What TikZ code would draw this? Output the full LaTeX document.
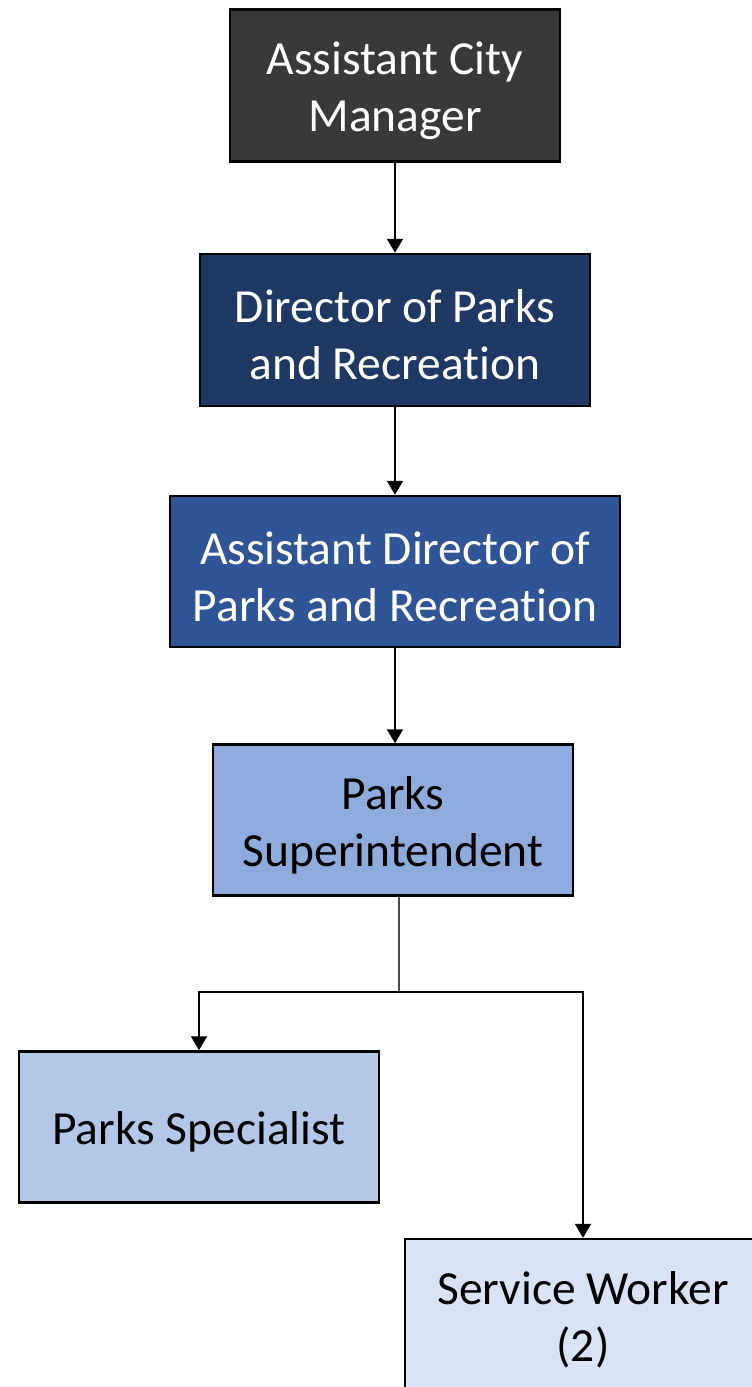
\documentclass[tikz,border=0pt]{standalone}
\usepackage{fontspec}
\setmainfont{Carlito}[Ligatures=NoCommon]
\usetikzlibrary{arrows.meta}
\definecolor{cgray}{HTML}{3B3838}
\definecolor{cnavy}{HTML}{203864}
\definecolor{cblue}{HTML}{2F5597}
\definecolor{cmid}{HTML}{8FAADC}
\definecolor{clight}{HTML}{B4C7E7}
\definecolor{cpale}{HTML}{DAE3F3}
\newcommand{\dn}[1]{\raisebox{-5pt}[\height][\depth]{#1}}
\tikzset{
  orgbox/.style={draw=black, line width=2.5pt, rectangle, inner sep=0pt, align=center,
    font=\fontsize{47.5}{57}\selectfont},
  arr/.style={draw=black, line width=2pt, -{Triangle[length=14pt,width=16pt]}},
  thinline/.style={draw=black!70, line width=1.2pt}
}
\begin{document}
\begin{tikzpicture}[x=1pt,y=-1pt]
\useasboundingbox (0,0) rectangle (752,1387);
\clip (0,0) rectangle (752,1387);
\node[orgbox, fill=cgray, text=white, minimum width=330pt, minimum height=152pt] (acm) at (395,85.5) {\dn{Assistant City}\\\dn{Manager}};
\node[orgbox, fill=cnavy, text=white, minimum width=390pt, minimum height=152pt] (dir) at (395,330) {\dn{Director of Parks}\\\dn{and Recreation}};
\node[orgbox, fill=cblue, text=white, minimum width=450pt, minimum height=151pt] (adir) at (395,571.5) {\dn{Assistant Director of}\\\dn{Parks and Recreation}};
\node[orgbox, fill=cmid, text=black, minimum width=360pt, minimum height=151pt] (sup) at (393,820) {\dn{Parks}\\\dn{Superintendent}};
\node[orgbox, fill=clight, text=black, minimum width=360pt, minimum height=151pt] (spec) at (199,1127) {\dn{Parks Specialist}};
\node[orgbox, fill=cpale, text=black, minimum width=356pt, minimum height=152pt] (sw) at (583,1315) {\dn{Service Worker}\\\dn{(2)}};
\coordinate (j) at (399,992);
\draw[arr] (acm) -- (dir);
\draw[arr] (dir) -- (adir);
\draw[arr] (adir.south) -- (adir.south |- sup.north);
\draw[thinline] (j |- sup.south) -- (j);
\draw[arr] (j) -| (spec.north);
\draw[arr] (j) -| (sw.north);
\end{tikzpicture}
\end{document}
